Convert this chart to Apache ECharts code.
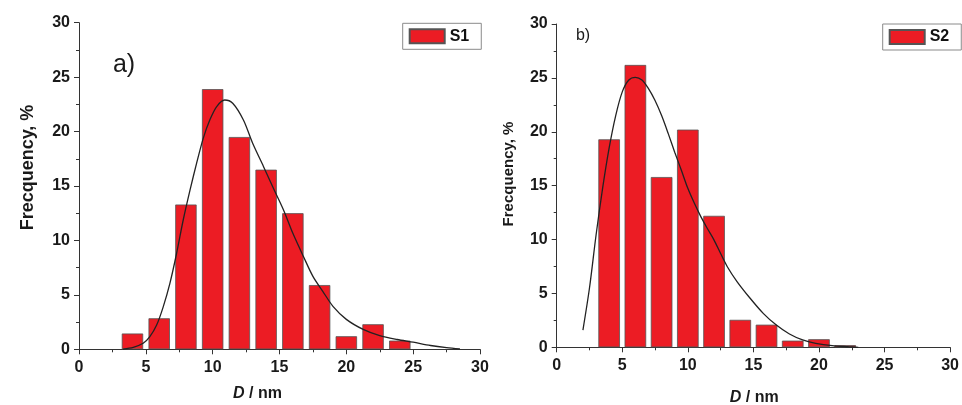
<!DOCTYPE html>
<html>
<head>
<meta charset="utf-8">
<script src="https://cdn.jsdelivr.net/npm/echarts@6/dist/echarts.min.js"></script>
<style>html,body{margin:0;padding:0;background:#fff}#c{width:962px;height:405px}</style>
</head>
<body>
<div id="c"></div>
<script>
// ---- data ----
var s1Centers = [4, 6, 8, 10, 12, 14, 16, 18, 20, 22, 24];
var s1Values  = [1.45, 2.85, 13.3, 23.9, 19.5, 16.5, 12.5, 5.9, 1.2, 2.3, 0.8];
var s1CurveX  = [3.3, 4.06, 4.8, 5.3, 5.8, 6.3, 6.8, 7.3, 7.8, 8.3, 8.8, 9.3, 9.8, 10.3, 10.9, 11.5, 12.3, 13.0, 13.8, 14.5, 15.3, 16.0, 16.8, 17.5, 18.25, 19.0, 20.0, 21.3, 22.5, 23.8, 25.0, 26.3, 27.5, 28.5];
var s1CurveY  = [0.02, 0.18, 0.55, 1.16, 2.2, 3.9, 6.06, 8.8, 11.9, 14.6, 17.1, 19.4, 21.1, 22.3, 22.9, 22.6, 21.06, 18.9, 16.8, 14.9, 12.8, 10.65, 8.5, 6.7, 5.3, 3.95, 2.75, 1.8, 1.25, 0.9, 0.65, 0.35, 0.15, 0.03];

var s2Centers = [4, 6, 8, 10, 12, 14, 16, 18, 20, 22];
var s2Values  = [19.3, 26.2, 15.8, 20.2, 12.2, 2.55, 2.1, 0.62, 0.75, 0.2];
var s2CurveX  = [2.0, 2.5, 3.0, 3.5, 4.0, 4.5, 5.0, 5.5, 6.0, 6.5, 7.0, 7.5, 8.0, 8.5, 9.0, 9.5, 10.0, 10.5, 11.0, 11.5, 12.0, 12.5, 13.0, 13.75, 14.75, 15.75, 16.75, 17.75, 18.75, 19.75, 21.0, 22.25, 23.0];
var s2CurveY  = [1.6, 5.5, 10.4, 14.75, 18.5, 21.5, 23.7, 24.8, 25.05, 24.8, 24.0, 22.9, 21.5, 19.85, 18.1, 16.45, 14.75, 13.36, 12.1, 11.0, 9.95, 8.7, 7.5, 6.1, 4.55, 3.15, 2.06, 1.23, 0.68, 0.37, 0.15, 0.05, 0.0];

var xTicks = [0, 5, 10, 15, 20, 25, 30];
var yTicks = [0, 5, 10, 15, 20, 25, 30];

function pairs(xs, ys) { return xs.map(function (x, i) { return [x, ys[i]]; }); }

var FONT = '"Liberation Sans", Arial, sans-serif';
var axisColor = '#333';
function xAxis(idx) {
  return {
    type: 'value', gridIndex: idx, min: xTicks[0], max: xTicks[xTicks.length - 1], interval: 5,
    axisLine: { show: true, onZero: false, lineStyle: { color: axisColor, width: 1 } },
    axisTick: { show: true, inside: false, length: 5, lineStyle: { color: axisColor } },
    minorTick: { show: true, splitNumber: 2, length: 3, lineStyle: { color: axisColor } },
    splitLine: { show: false },
    axisLabel: { margin: 10, fontFamily: FONT, fontWeight: 'bold', fontSize: 16, color: '#1a1a1a' }
  };
}
function yAxis(idx) {
  return {
    type: 'value', gridIndex: idx, min: yTicks[0], max: yTicks[yTicks.length - 1], interval: 5,
    axisLine: { show: true, lineStyle: { color: axisColor, width: 1 } },
    axisTick: { show: true, inside: false, length: 5, lineStyle: { color: axisColor } },
    minorTick: { show: true, splitNumber: 2, length: 3, lineStyle: { color: axisColor } },
    splitLine: { show: false },
    axisLabel: { margin: 9, fontFamily: FONT, fontWeight: 'bold', fontSize: 16, color: '#1a1a1a' }
  };
}
var barStyle = { color: '#ec1c24', borderColor: '#555', borderWidth: 0.8 };
function legend(name, left, top) {
  return {
    data: [name], left: left, top: top, orient: 'horizontal',
    itemWidth: 35, itemHeight: 14, itemGap: 5,
    padding: [5, 12, 5, 6],
    borderColor: '#8a8a8a', borderWidth: 1, backgroundColor: '#fff',
    icon: 'rect',
    textStyle: { fontFamily: FONT, fontWeight: 'bold', fontSize: 16, color: '#111' }
  };
}

var chart = echarts.init(document.getElementById('c'));
chart.setOption({
  backgroundColor: '#fff',
  animation: false,
  grid: [
    { left: 79, top: 22.7, width: 401, height: 326.6 },
    { left: 556.7, top: 24, width: 400, height: 323.3 }
  ],
  xAxis: [xAxis(0), xAxis(1)],
  yAxis: [yAxis(0), yAxis(1)],
  legend: [legend('S1', 402.7, 23.3), legend('S2', 882.7, 24)],
  series: [
    { name: 'S1', type: 'bar', xAxisIndex: 0, yAxisIndex: 0, barWidth: 21.4, itemStyle: barStyle, data: pairs(s1Centers, s1Values) },
    { name: 'S1 fit', type: 'line', xAxisIndex: 0, yAxisIndex: 0, smooth: 0.3, showSymbol: false, lineStyle: { color: '#222', width: 1.3 }, data: pairs(s1CurveX, s1CurveY) },
    { name: 'S2', type: 'bar', xAxisIndex: 1, yAxisIndex: 1, barWidth: 21.6, itemStyle: barStyle, data: pairs(s2Centers, s2Values) },
    { name: 'S2 fit', type: 'line', xAxisIndex: 1, yAxisIndex: 1, smooth: 0.3, showSymbol: false, lineStyle: { color: '#222', width: 1.3 }, data: pairs(s2CurveX, s2CurveY) }
  ],
  graphic: [
    { type: 'text', x: 28.3, y: 167.5, rotation: Math.PI / 2, style: { text: 'Frecquency, %', align: 'center', verticalAlign: 'middle', fontFamily: FONT, fontWeight: 'bold', fontSize: 18, fill: '#1a1a1a' } },
    { type: 'text', x: 508.8, y: 174, rotation: Math.PI / 2, style: { text: 'Frecquency, %', align: 'center', verticalAlign: 'middle', fontFamily: FONT, fontWeight: 'bold', fontSize: 15, fill: '#1a1a1a' } },
    { type: 'text', x: 257.5, y: 394, style: { text: '{i|D}{n| / nm}', align: 'center', verticalAlign: 'middle', rich: { i: { fontFamily: FONT, fontWeight: 'bold', fontStyle: 'italic', fontSize: 16, fill: '#1a1a1a' }, n: { fontFamily: FONT, fontWeight: 'bold', fontSize: 16, fill: '#1a1a1a' } } } },
    { type: 'text', x: 754.2, y: 398, style: { text: '{i|D}{n| / nm}', align: 'center', verticalAlign: 'middle', rich: { i: { fontFamily: FONT, fontWeight: 'bold', fontStyle: 'italic', fontSize: 16, fill: '#1a1a1a' }, n: { fontFamily: FONT, fontWeight: 'bold', fontSize: 16, fill: '#1a1a1a' } } } },
    { type: 'text', x: 124, y: 65, style: { text: 'a)', align: 'center', verticalAlign: 'middle', fontFamily: FONT, fontSize: 25, fill: '#1a1a1a' } },
    { type: 'text', x: 583, y: 36, style: { text: 'b)', align: 'center', verticalAlign: 'middle', fontFamily: FONT, fontSize: 16, fill: '#1a1a1a' } }
  ]
});
</script>
</body>
</html>
